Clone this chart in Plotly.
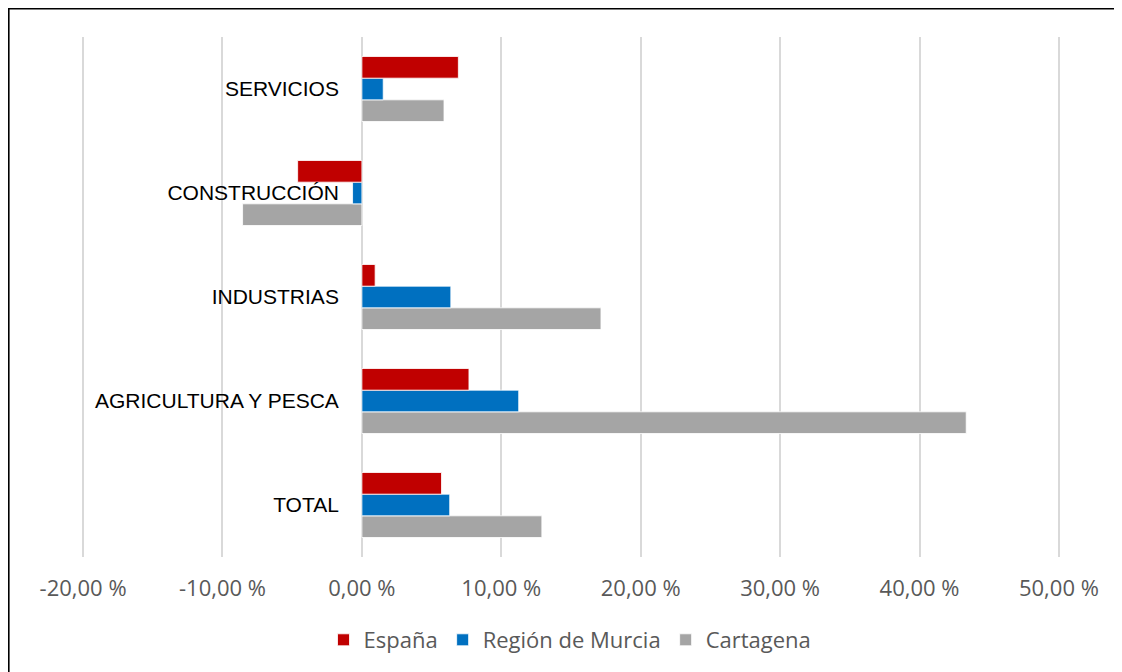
import plotly.graph_objects as go

categories = ["TOTAL", "AGRICULTURA Y PESCA", "INDUSTRIAS", "CONSTRUCCIÓN", "SERVICIOS"]
espana = [5.71, 7.68, 0.95, -4.61, 6.92]
murcia = [6.30, 11.25, 6.38, -0.67, 1.53]
cartagena = [12.91, 43.35, 17.15, -8.56, 5.89]
x_ticks = [-20, -10, 0, 10, 20, 30, 40, 50]
x_tick_labels = ["-20,00 %", "-10,00 %", "0,00 %", "10,00 %", "20,00 %", "30,00 %", "40,00 %", "50,00 %"]

series = [
    ("Cartagena", cartagena, "#A5A5A5", 3),
    ("Región de Murcia", murcia, "#0070C0", 2),
    ("España", espana, "#C00000", 1),
]

fig = go.Figure()
for name, vals, color, rank in series:
    fig.add_trace(go.Bar(
        y=categories, x=vals, name=name, orientation="h",
        marker=dict(color=color, line=dict(color="#FFFFFF", width=0.8)),
        legendrank=rank,
    ))

# page has an 8px body margin; figure coordinates = page coordinates - 8
OFF = 8
W, H = 1122 - OFF, 672 - OFF
XMIN, XMAX = -20.15, 50.15
PX = (1059 - 83) / 70.0
L = 83 - OFF - (-20 - XMIN) * PX
R = 1059 - OFF + (XMAX - 50) * PX
T, B = 37 - OFF, 557 - OFF

def px_x(p):
    return (p - OFF - L) / (R - L)

def px_y(p):
    return (B - (p - OFF)) / (B - T)

border = dict(color="#000000", width=2)

fig.update_layout(
    width=W, height=H,
    margin=dict(l=L, r=W - R, t=T, b=H - B, autoexpand=False),
    paper_bgcolor="white", plot_bgcolor="white",
    barmode="group", bargap=0.375, bargroupgap=0,
    showlegend=True,
    legend=dict(
        orientation="h", x=px_x(570), xanchor="center",
        y=px_y(640), yanchor="middle",
        font=dict(family="Open Sans", size=22, color="#595959"),
        itemwidth=30, tracegroupgap=0,
    ),
    xaxis=dict(
        range=[XMIN, XMAX], tickvals=x_ticks, ticktext=x_tick_labels,
        showgrid=True, gridcolor="#D9D9D9", gridwidth=1.5,
        zeroline=False, showline=False, ticks="",
        tickfont=dict(family="Open Sans", size=22, color="#595959"),
        ticklabelstandoff=16,
    ),
    yaxis=dict(
        type="category", anchor="free", position=(0 - XMIN) / (XMAX - XMIN),
        showgrid=False, zeroline=False, showline=False, ticks="",
        tickfont=dict(family="Liberation Sans", size=21, color="#000000"),
        ticklabelstandoff=23,
    ),
    shapes=[
        dict(type="line", xref="paper", yref="paper",
             x0=px_x(8.5), x1=px_x(8.5), y0=px_y(8), y1=px_y(700), line=border),
        dict(type="line", xref="paper", yref="paper",
             x0=px_x(7.5), x1=px_x(1140), y0=px_y(8.5), y1=px_y(8.5), line=border),
    ],
)

fig.write_html("out.html")
